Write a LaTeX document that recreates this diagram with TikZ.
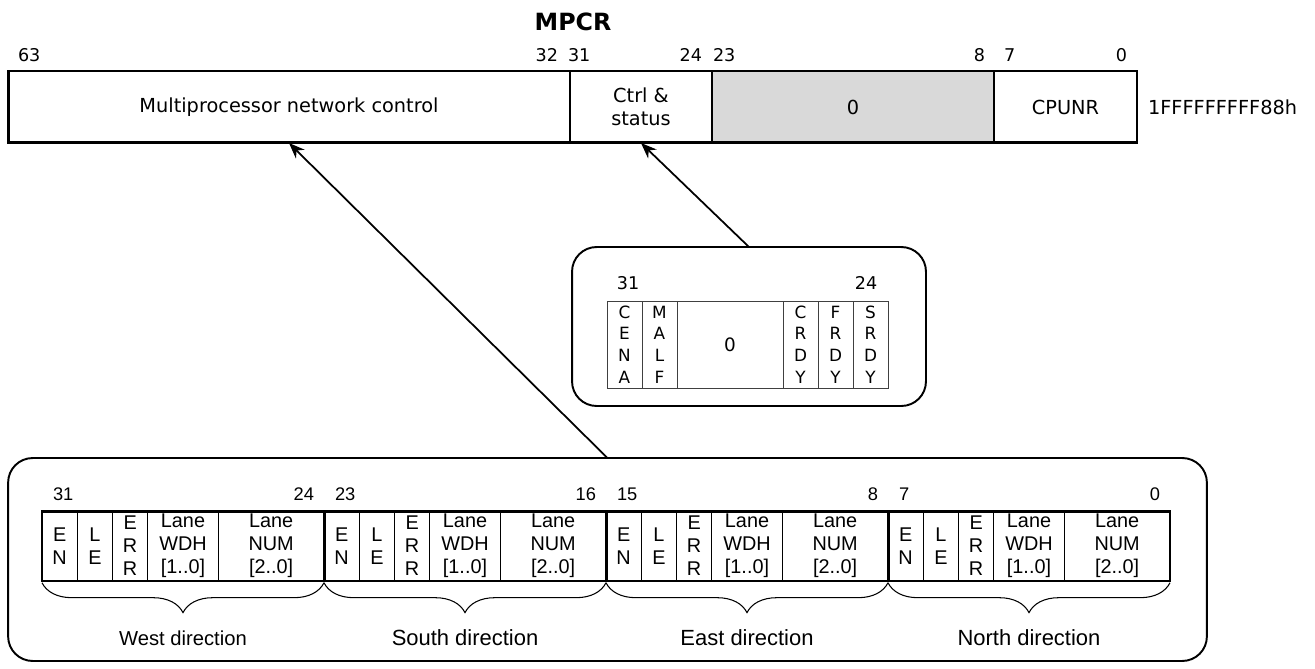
\documentclass[tikz,border=0pt]{standalone}
\usepackage{fontspec}
\setmainfont{DejaVu Sans}
\newfontfamily\arialfont{Liberation Sans}
\usetikzlibrary{arrows.meta,decorations.pathreplacing}
\definecolor{rsvdgray}{HTML}{D9D9D9}

\begin{document}
\begin{tikzpicture}[x=0.02cm,y=-0.02cm]
        \tikzstyle{every node} = [inner sep=0pt, outer sep=0pt]
        \tikzstyle{regcell} = [draw, line width=0.7pt, minimum height=1.44cm, align=center, font=\fontsize{11}{13}\selectfont]
        \tikzstyle{topbit} = [font=\fontsize{10}{11}\selectfont]
        \tikzstyle{csbit} = [draw=black!75, line width=0.5pt, minimum height=1.74cm, minimum width=0.70cm, align=center, font=\fontsize{9.6}{12.3}\selectfont]
        \tikzstyle{lanebit} = [draw, line width=0.5pt, minimum height=1.4cm, align=center, font=\arialfont\fontsize{11.3}{13}\selectfont]
        \tikzstyle{lanenum} = [font=\arialfont\fontsize{10.4}{11}\selectfont]
        \tikzstyle{callout} = [draw, line width=1.1pt, rounded corners=14pt]
        \tikzstyle{pointer} = [line width=1pt, -{Stealth[length=9pt,width=7pt]}]
        \useasboundingbox (0,0) rectangle (1315,669);

        % MPCR register
        \node[font=\bfseries\fontsize{13.5}{15}\selectfont] (title) at (573,22) {MPCR};
        \node[regcell, minimum width=11.24cm] (mpnc) at (289,107) {Multiprocessor network control};
        \node[regcell, minimum width=2.84cm] (ctrl) at (641,107) {Ctrl \&\\status};
        \node[regcell, minimum width=5.64cm, fill=rsvdgray] (rsvd) at (853,107) {0};
        \node[regcell, minimum width=2.86cm] (cpunr) at (1065.5,107) {CPUNR};
        \draw[line width=1.7pt] (mpnc.north west) rectangle (cpunr.south east);
        \node[anchor=west, font=\fontsize{11}{13}\selectfont] (addr) at (1148,107) {1FFFFFFFFF88h};
        \foreach \bit/\x/\side in {63/18/west, 32/558/east, 31/568/west, 24/702/east,
                                   23/713/west, 8/985/east, 7/1004/west, 0/1127/east}
            \node[topbit, anchor=\side] (top\bit) at (\x,55) {\bit};

        % ctrl & status field
        \node[callout, minimum width=7.08cm, minimum height=3.18cm] (csbox) at (749,326.5) {};
        \node[topbit] (cs31) at (628,283) {31};
        \node[topbit] (cs24) at (866,283) {24};
        \node[csbit] (cena) at (624.5,344.5) {C\\E\\N\\A};
        \node[csbit] (malf) at (659.5,344.5) {M\\A\\L\\F};
        \node[csbit, minimum width=2.12cm, font=\fontsize{10.5}{12}\selectfont] (csrsvd) at (730,344.5) {0};
        \node[csbit] (crdy) at (800.5,344.5) {C\\R\\D\\Y};
        \node[csbit] (frdy) at (835.5,344.5) {F\\R\\D\\Y};
        \node[csbit] (srdy) at (870.5,344.5) {S\\R\\D\\Y};

        % network control field
        \node[callout, minimum width=23.98cm, minimum height=4.06cm] (netbox) at (607.5,559.5) {};
        \foreach \g/\hi/\lo/\dir/\fs in {0/31/24/West/11.5, 1/23/16/South/12.5,
                                         2/15/8/East/12.5, 3/7/0/North/12.5}
        {
            \pgfmathsetmacro\xo{42+282*\g}
            \node[lanenum, anchor=west] (hi\g) at (\xo+11,494) {\hi};
            \node[lanenum, anchor=east] (lo\g) at (\xo+272,494) {\lo};
            \node[lanebit, minimum width=0.705cm] (en\g) at (\xo+17.625,546) {E\\N};
            \node[lanebit, minimum width=0.705cm] (le\g) at (\xo+52.875,546) {L\\E};
            \node[lanebit, minimum width=0.705cm] (err\g) at (\xo+88.125,546) {E\\R\\R};
            \node[lanebit, minimum width=1.41cm] (wdh\g) at (\xo+141,546) {Lane\\WDH\\{[1..0]}};
            \node[lanebit, minimum width=2.115cm] (num\g) at (\xo+229.125,546) {Lane\\NUM\\{[2..0]}};
            \draw[line width=1.7pt] (en\g.north west) rectangle (num\g.south east);
            \draw[line width=0.6pt, decorate, decoration={brace, mirror, amplitude=17pt, raise=1pt}]
                (en\g.south west) -- (num\g.south east);
            \node[font=\arialfont\fontsize{\fs}{14}\selectfont] (dir\g) at (\xo+141,638) {\dir{} direction};
        }

        \foreach \from/\to in {csbox/ctrl, netbox/mpnc}
            \draw[pointer] (\from.north) -- (\to.south);
\end{tikzpicture}
\end{document}
